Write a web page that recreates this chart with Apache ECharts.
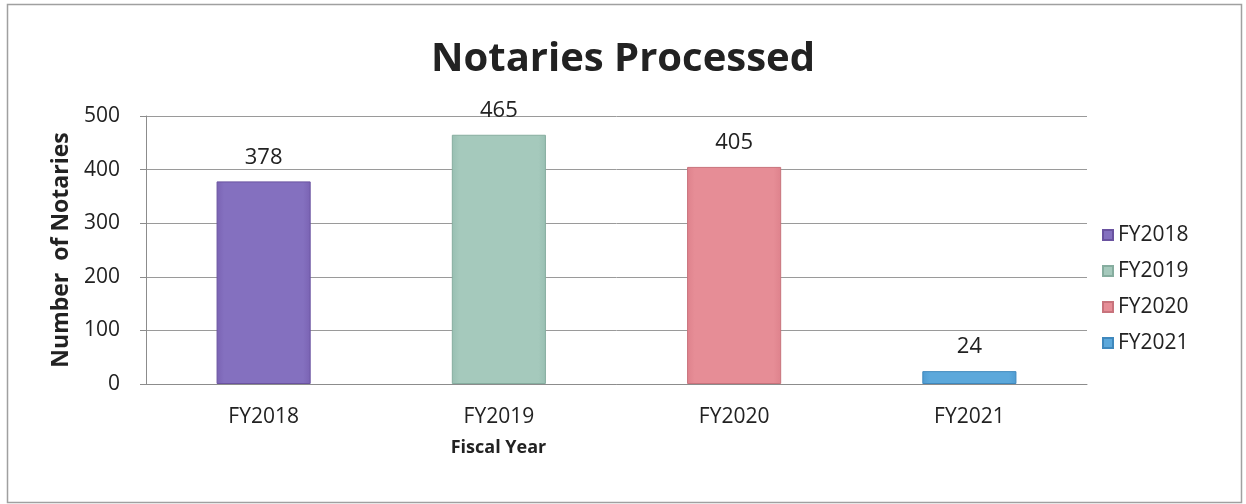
<!DOCTYPE html>
<html>
<head>
<meta charset="utf-8">
<script src="https://cdn.jsdelivr.net/npm/echarts@6/dist/echarts.min.js"></script>
<style>
  html, body { margin: 0; padding: 0; background: #fff; }
  #chart { width: 1246px; height: 504px; }
</style>
</head>
<body>
<div id="chart"></div>
<script>
// Notaries processed per fiscal year
const categories = ['FY2018', 'FY2019', 'FY2020', 'FY2021'];
const notaryCounts = [378, 465, 405, 24];
const yTicks = [0, 100, 200, 300, 400, 500];
// [edge, face, border] for each year's bar
const barColors = [
  ['#7a63b3', '#8470bf', '#6a53a0'],
  ['#98bfb2', '#a5c9bc', '#86ad9f'],
  ['#de828c', '#e68d96', '#c8737c'],
  ['#4f9cd2', '#5ca8db', '#3f88bd']
];

const FONT = '"Open Sans", "Noto Sans", sans-serif';

function gradient(c) {
  return new echarts.graphic.LinearGradient(0, 0, 1, 0, [
    { offset: 0, color: c[0] },
    { offset: 0.08, color: c[1] },
    { offset: 0.92, color: c[1] },
    { offset: 1, color: c[0] }
  ]);
}

// One series per year, stacked so each bar sits centred in its own slot
const series = categories.map((name, i) => ({
  name: name,
  type: 'bar',
  stack: 'years',
  barWidth: '40%',
  data: categories.map((_, j) => (j === i ? notaryCounts[i] : null)),
  itemStyle: {
    color: gradient(barColors[i]),
    borderColor: barColors[i][2],
    borderWidth: 1
  },
  label: {
    show: true,
    position: 'top',
    distance: 13,
    color: '#222',
    fontFamily: FONT,
    fontSize: 22
  }
}));

const chart = echarts.init(document.getElementById('chart'), null, { renderer: 'canvas' });
chart.setOption({
  backgroundColor: '#fff',
  animation: false,
  title: {
    text: 'Notaries Processed',
    left: 'center',
    top: 35,
    textStyle: { fontFamily: FONT, fontSize: 40, fontWeight: 'bold', color: '#222' }
  },
  legend: {
    orient: 'vertical',
    left: 1097,
    top: 218,
    itemWidth: 10,
    itemHeight: 10,
    itemGap: 12,
    icon: 'rect',
    data: categories,
    textStyle: { fontFamily: FONT, fontSize: 21, color: '#222', lineHeight: 24 }
  },
  grid: { left: 146, right: 159, top: 116, bottom: 120 },
  xAxis: {
    type: 'category',
    data: categories,
    name: 'Fiscal Year',
    nameLocation: 'middle',
    nameGap: 55,
    nameTextStyle: {
      fontFamily: FONT, fontSize: 18, fontWeight: 'bold', color: '#222',
      padding: [0, 236, 0, 0]
    },
    axisLine: { lineStyle: { color: '#8c8c8c', width: 1 } },
    axisTick: { show: false },
    axisLabel: { margin: 23, fontFamily: FONT, fontSize: 21, color: '#222' }
  },
  yAxis: {
    type: 'value',
    min: yTicks[0],
    max: yTicks[yTicks.length - 1],
    interval: yTicks[1] - yTicks[0],
    name: 'Number  of Notaries',
    nameLocation: 'middle',
    nameGap: 60,
    nameTextStyle: { fontFamily: FONT, fontSize: 23, fontWeight: 'bold', color: '#222' },
    axisLine: { show: true, lineStyle: { color: '#8c8c8c', width: 1 } },
    axisTick: { show: true, length: 6, lineStyle: { color: '#8c8c8c' } },
    axisLabel: { margin: 26, fontFamily: FONT, fontSize: 21, color: '#222' },
    splitLine: { lineStyle: { color: '#9a9a9a', width: 1 } }
  },
  graphic: [{
    type: 'rect',
    shape: { x: 7.5, y: 4.5, width: 1234, height: 498 },
    style: { fill: 'none', stroke: '#a0a0a0', lineWidth: 1.5 },
    silent: true,
    z: -1
  }],
  series: series
});
</script>
</body>
</html>
